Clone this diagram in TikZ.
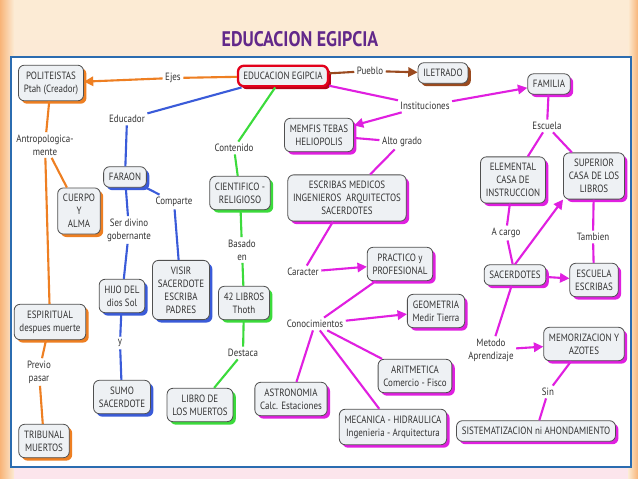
\documentclass[tikz,border=0pt]{standalone}
\usepackage{fontspec}
\setmainfont{PT Sans}[FakeStretch=0.85]
\usetikzlibrary{arrows.meta, shadows}
\definecolor{corange}{HTML}{EE7F22}
\definecolor{cblue}{HTML}{3A5BD9}
\definecolor{cgreen}{HTML}{3BDB3B}
\definecolor{cmagenta}{HTML}{E01FE0}
\definecolor{cbrown}{HTML}{9A4A1F}
\definecolor{cred}{HTML}{E3001B}
\definecolor{boxfill}{HTML}{EEF1F4}
\definecolor{boxline}{HTML}{505050}
\definecolor{boxtext}{HTML}{333333}
\definecolor{frameblue}{HTML}{2B6CB0}
\definecolor{ttlpurple}{HTML}{62288A}
\definecolor{bgtop}{HTML}{FCEBD4}
\definecolor{bgbot}{HTML}{FCE5EC}
\definecolor{bgorange}{HTML}{F8B478}

\tikzset{
  concept/.style={draw=boxline, line width=0.7pt, fill=boxfill, rounded corners=5pt,
    align=center, font=\fontsize{9}{11}\selectfont, text=boxtext, inner xsep=4.5pt, inner ysep=5.5pt,
    drop shadow={shadow xshift=2.5pt, shadow yshift=-2.5pt, fill=#1, opacity=1}},
  linkword/.style={align=center, font=\fontsize{9}{11}\selectfont, text=boxtext, inner sep=2pt},
  link/.style={draw=#1, line width=1.8pt},
  linkarrow/.style={draw=#1, line width=1.8pt, -{Triangle[length=8pt, width=8pt]}, #1}
}

\begin{document}
\begin{tikzpicture}[x=0.03cm, y=-0.03cm]

% Background
\useasboundingbox (0,0) rectangle (638,479);
\shade[top color=bgtop, bottom color=bgbot] (0,0) rectangle (638,479);
\shade[left color=bgorange, right color=bgtop] (0,0) rectangle (14,479);
\shade[left color=bgtop, right color=bgorange] (628,0) rectangle (638,479);

% Title
\node[font=\fontsize{18}{20}\selectfont\bfseries, text=ttlpurple] (title) at (300,39)
  {EDUCACION EGIPCIA};

% Frame
\draw[frameblue, line width=2.5pt, fill=white] (11,57) rectangle (631,467);

% ================================================================
% CONCEPTS
% ================================================================
\node[concept=cred!80!black, draw=cred, line width=2pt] (edu) at (283,76) {EDUCACION EGIPCIA};
\node[concept=corange] (polit) at (51,83) {POLITEISTAS\\Ptah (Creador)};
\node[concept=cbrown] (iletr) at (443,73) {ILETRADO};
\node[concept=cmagenta] (familia) at (549,84) {FAMILIA};
\node[concept=cmagenta] (memfis) at (319,135) {MEMFIS TEBAS\\HELIOPOLIS};
\node[concept=cmagenta] (escribas) at (347,198)
  {ESCRIBAS MEDICOS\\INGENIEROS\ \ ARQUITECTOS\\SACERDOTES};
\node[concept=cgreen] (cientif) at (240,193) {CIENTIFICO -\\RELIGIOSO};
\node[concept=cmagenta] (elemental) at (513,180) {ELEMENTAL\\CASA DE\\INSTRUCCION};
\node[concept=cmagenta] (superior) at (594,176) {SUPERIOR\\CASA DE LOS\\LIBROS};
\node[concept=cblue] (faraon) at (125,177) {FARAON};
\node[concept=corange] (cuerpo) at (79,211) {CUERPO\\Y\\ALMA};
\node[concept=cmagenta] (practico) at (400,264) {PRACTICO y\\PROFESIONAL};
\node[concept=cmagenta] (sacerd) at (515,275) {SACERDOTES};
\node[concept=cmagenta] (escuela) at (594,280) {ESCUELA\\ESCRIBAS};
\node[concept=cblue] (visir) at (181,290) {VISIR\\SACERDOTE\\ESCRIBA\\PADRES};
\node[concept=cblue] (hijo) at (122,296) {HIJO DEL\\dios Sol};
\node[concept=cgreen] (libros) at (244,303) {42 LIBROS\\Thoth};
\node[concept=cmagenta] (geom) at (436,311) {GEOMETRIA\\Medir Tierra};
\node[concept=corange] (espirit) at (50,322) {ESPIRITUAL\\despues muerte};
\node[concept=cmagenta] (memoriz) at (584,344) {MEMORIZACION Y\\AZOTES};
\node[concept=cmagenta] (aritm) at (415,376) {ARITMETICA\\Comercio - Fisco};
\node[concept=cblue] (sumo) at (122,397) {SUMO\\SACERDOTE};
\node[concept=cgreen] (libmuertos) at (200,405) {LIBRO DE\\LOS MUERTOS};
\node[concept=cmagenta] (astron) at (291,399) {ASTRONOMIA\\Calc. Estaciones};
\node[concept=cmagenta] (mecan) at (393,427) {MECANICA - HIDRAULICA\\Ingenieria - Arquitectura};
\node[concept=cmagenta] (sistem) at (536,431) {SISTEMATIZACION ni AHONDAMIENTO};
\node[concept=corange] (tribunal) at (44,441) {TRIBUNAL\\MUERTOS};

% ================================================================
% LINKING WORDS
% ================================================================
\node[linkword] (lejes) at (173,78) {Ejes};
\node[linkword] (lpueblo) at (370,71) {Pueblo};
\node[linkword] (linst) at (425,106) {Instituciones};
\node[linkword] (leduc) at (127,119) {Educador};
\node[linkword] (lcont) at (234,148) {Contenido};
\node[linkword] (lalto) at (402,142) {Alto grado};
\node[linkword] (lescuela) at (547,126) {Escuela};
\node[linkword] (lantrop) at (45,145) {Antropologica-\\mente};
\node[linkword] (lcomp) at (174,202) {Comparte};
\node[linkword] (lserdiv) at (129,230) {Ser divino\\gobernante};
\node[linkword] (lbasado) at (242,250) {Basado\\en};
\node[linkword] (lcaracter) at (303,272) {Caracter};
\node[linkword] (lacargo) at (506,233) {A cargo};
\node[linkword] (ltambien) at (593,237) {Tambien};
\node[linkword] (lconoc) at (315,324) {Conocimientos};
\node[linkword] (ly) at (120,343) {y};
\node[linkword] (lmetodo) at (491,350) {Metodo\\Aprendizaje};
\node[linkword] (lprevio) at (39,372) {Previo\\pasar};
\node[linkword] (ldestaca) at (243,353) {Destaca};
\node[linkword] (lsin) at (548,392) {Sin};

% ================================================================
% CONNECTORS
% ================================================================
% orange branch
\draw[link=corange] (edu) -- (lejes);
\draw[linkarrow=corange] (lejes) -- (polit);
\draw[link=corange] (polit) -- (lantrop);
\draw[link=corange] (lantrop) -- (cuerpo);
\draw[link=corange] (lantrop) -- (espirit);
\draw[link=corange] (espirit) -- (lprevio);
\draw[link=corange] (lprevio) -- (tribunal);

% brown branch
\draw[link=cbrown] (edu) -- (lpueblo);
\draw[linkarrow=cbrown] (lpueblo) -- (iletr);

% blue branch
\draw[link=cblue] (edu) -- (leduc);
\draw[link=cblue] (leduc) -- (faraon);
\draw[link=cblue] (faraon) -- (lcomp);
\draw[link=cblue] (lcomp) -- (visir);
\draw[link=cblue] (faraon) -- (lserdiv);
\draw[link=cblue] (lserdiv) -- (hijo);
\draw[link=cblue] (hijo) -- (ly);
\draw[link=cblue] (ly) -- (sumo);

% green branch
\draw[link=cgreen] (edu) -- (lcont);
\draw[link=cgreen] (lcont) -- (cientif);
\draw[link=cgreen] (cientif) -- (lbasado);
\draw[link=cgreen] (lbasado) -- (libros);
\draw[link=cgreen] (libros) -- (ldestaca);
\draw[link=cgreen] (ldestaca) -- (libmuertos);

% magenta branch
\draw[link=cmagenta] (edu) -- (linst);
\draw[linkarrow=cmagenta] (linst) -- (familia);
\draw[linkarrow=cmagenta] (linst) -- (memfis);
\draw[link=cmagenta] (memfis) -- (lalto);
\draw[link=cmagenta] (lalto) -- (escribas);
\draw[link=cmagenta] (escribas) -- (lcaracter);
\draw[linkarrow=cmagenta] (lcaracter) -- (practico);
\draw[link=cmagenta] (practico) -- (lconoc);
\draw[linkarrow=cmagenta] (lconoc) -- (geom);
\draw[link=cmagenta] (lconoc) -- (aritm);
\draw[link=cmagenta] (lconoc) -- (astron);
\draw[link=cmagenta] (lconoc) -- (mecan);
\draw[link=cmagenta] (familia) -- (lescuela);
\draw[link=cmagenta] (lescuela) -- (elemental);
\draw[link=cmagenta] (lescuela) -- (superior);
\draw[link=cmagenta] (elemental) -- (lacargo);
\draw[link=cmagenta] (lacargo) -- (sacerd);
\draw[linkarrow=cmagenta] (sacerd.north) -- (superior.south west);
\draw[link=cmagenta] (superior) -- (ltambien);
\draw[link=cmagenta] (ltambien) -- (escuela);
\draw[linkarrow=cmagenta] (sacerd) -- (escuela);
\draw[link=cmagenta] (sacerd) -- (lmetodo);
\draw[linkarrow=cmagenta] (lmetodo) -- (memoriz);
\draw[link=cmagenta] (memoriz) -- (lsin);
\draw[link=cmagenta] (lsin) -- (sistem);

\end{tikzpicture}
\end{document}
